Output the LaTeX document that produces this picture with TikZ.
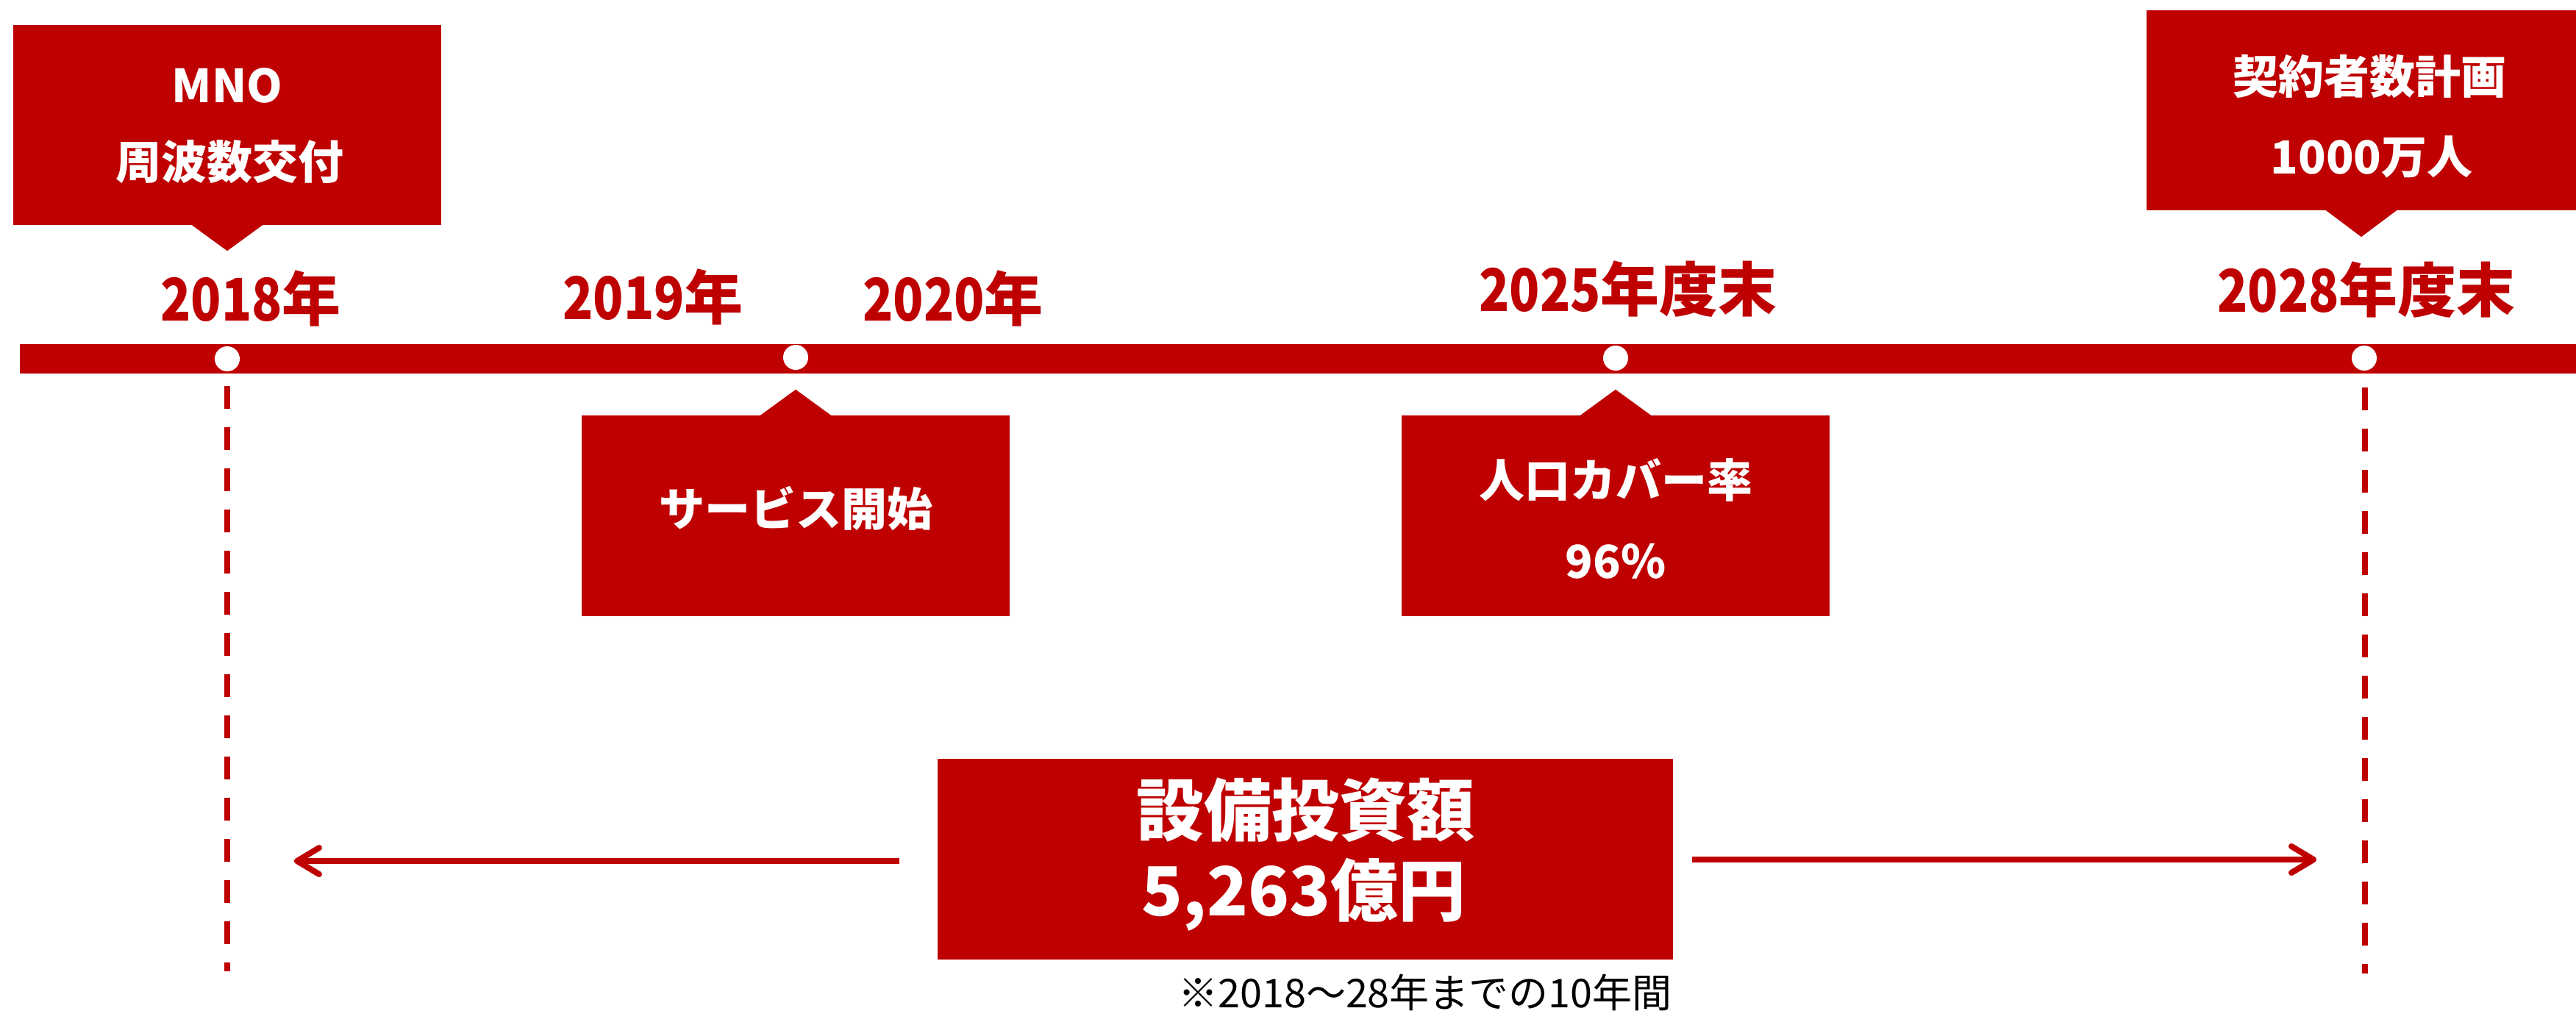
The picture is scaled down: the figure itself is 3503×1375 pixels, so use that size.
\documentclass[tikz,border=0pt]{standalone}
\usepackage{fontspec}
\setmainfont{Noto Sans CJK JP}
\newfontfamily\ydig{Noto Sans CJK JP}[FakeStretch=0.85]
\usetikzlibrary{arrows.meta}
\definecolor{kred}{RGB}{190,0,0}
\tikzset{
  cbox/.style={fill=kred, inner sep=0pt, minimum width=582pt, minimum height=273pt},
  boxtxt/.style={text=white, inner sep=0pt, font=\bfseries\fontsize{62}{62}\selectfont},
  bigtxt/.style={text=white, inner sep=0pt, font=\bfseries\fontsize{92}{92}\selectfont},
  yeartxt/.style={text=kred, inner sep=0pt, font=\bfseries\fontsize{80}{80}\selectfont},
  tldot/.style={circle, fill=white, minimum size=34pt, inner sep=0pt},
  guide/.style={draw=kred, line width=8pt, dash pattern=on 31pt off 25pt},
  span/.style={draw=kred, line width=8pt, -{Straight Barb[length=30pt,width=36pt,round]}},
  pointer/.style={fill=kred}
}
\begin{document}
\begin{tikzpicture}[x=1pt,y=-1pt]
\useasboundingbox (0,0) rectangle (3503,1375);
% timeline bar
\fill[kred] (27,468) rectangle (3503,508);
% dots
\node[tldot] (d18) at (309,488) {};
\node[tldot] (d19) at (1082,486) {};
\node[tldot] (d25) at (2197,487) {};
\node[tldot] (d28) at (3215,487) {};
% year labels
\node[yeartxt] (y18) at (341,406) {{\ydig 2018}年};
\node[yeartxt] (y19) at (888,404) {{\ydig 2019}年};
\node[yeartxt] (y20) at (1296,406) {{\ydig 2020}年};
\node[yeartxt] (y25) at (2214,393) {{\ydig 2025}年度末};
\node[yeartxt] (y28) at (3218,394) {{\ydig 2028}年度末};
% box 1
\node[cbox, minimum height=272pt] (b1) at (309,170) {};
\fill[pointer] ([xshift=-48pt]b1.south) -- ([yshift=-35pt]b1.south) -- ([xshift=48pt]b1.south) -- cycle;
\node[boxtxt] (b1a) at (309,116) {MNO};
\node[boxtxt] (b1b) at (312,220) {周波数交付};
% box 2
\node[cbox, minimum width=584pt, minimum height=272pt] (b2) at (3211,150) {};
\fill[pointer] ([xshift=-48pt]b2.south) -- ([yshift=-36pt]b2.south) -- ([xshift=48pt]b2.south) -- cycle;
\node[boxtxt] (b2a) at (3222,104) {契約者数計画};
\node[boxtxt] (b2b) at (3225,213) {1000万人};
% box 3
\node[cbox] (b3) at (1082,701.5) {};
\fill[pointer] ([xshift=-48pt]b3.north) -- ([yshift=35pt]b3.north) -- ([xshift=48pt]b3.north) -- cycle;
\node[boxtxt] (b3a) at (1082,692) {サービス開始};
% box 4
\node[cbox] (b4) at (2197,701.5) {};
\fill[pointer] ([xshift=-48pt]b4.north) -- ([yshift=35pt]b4.north) -- ([xshift=48pt]b4.north) -- cycle;
\node[boxtxt] (b4a) at (2197,653) {人口カバー率};
\node[boxtxt] (b4b) at (2197,763) {96\%};
% box 5
\node[cbox, minimum width=1000pt] (b5) at (1775,1168.5) {};
\node[bigtxt] (b5a) at (1775,1102) {設備投資額};
\node[bigtxt] (b5b) at (1773,1217) {5,263億円};
% guides
\coordinate (g18a) at (309,525);
\coordinate (g18b) at (309,1321);
\coordinate (g28a) at (3216,527);
\coordinate (g28b) at (3216,1324);
\draw[guide] (g18a) -- (g18b);
\draw[guide] (g28a) -- (g28b);
% span arrows
\coordinate (la) at (1223,1171);
\coordinate (lb) at (400,1171);
\coordinate (ra) at (2301,1169);
\coordinate (rb) at (3150,1169);
\draw[span] (la) -- (lb);
\draw[span] (ra) -- (rb);
% note
\node[inner sep=0pt, font=\fontsize{54}{54}\selectfont] (note) at (1938,1350) {※2018～28年までの10年間};
\end{tikzpicture}
\end{document}
